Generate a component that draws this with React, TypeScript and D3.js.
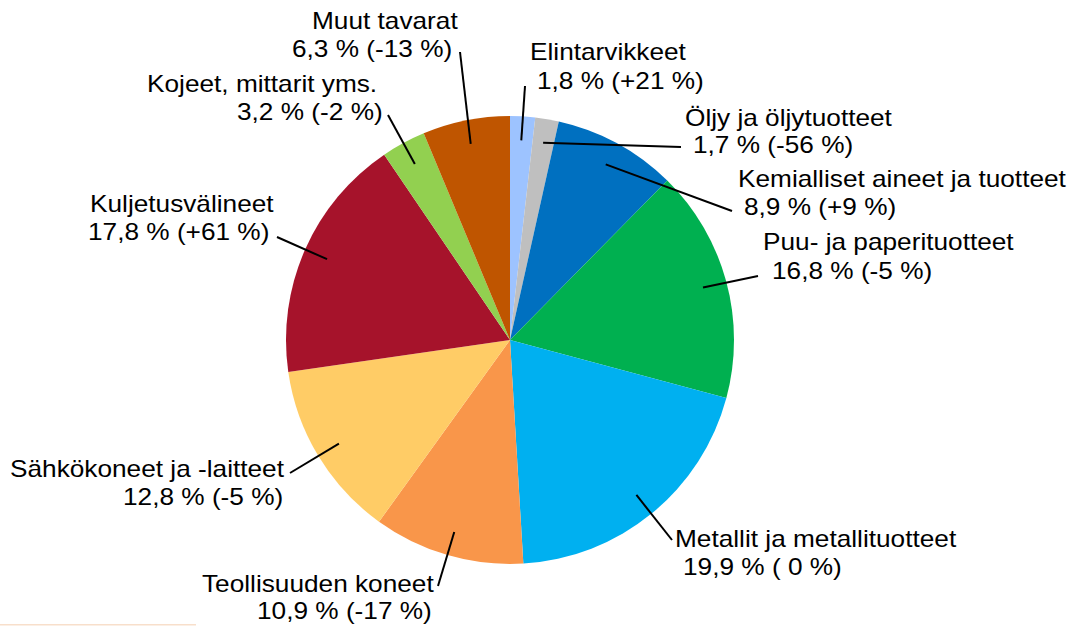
import React from "react"
import * as d3 from "d3"

// ── Data ───────────────────────────────────────────────────────────────────────

const categories = [
  "Elintarvikkeet",
  "Öljy ja öljytuotteet",
  "Kemialliset aineet ja tuotteet",
  "Puu- ja paperituotteet",
  "Metallit ja metallituotteet",
  "Teollisuuden koneet",
  "Sähkökoneet ja -laitteet",
  "Kuljetusvälineet",
  "Kojeet, mittarit yms.",
  "Muut tavarat",
]
const shares = [1.8, 1.7, 8.9, 16.8, 19.9, 10.9, 12.8, 17.8, 3.2, 6.3]
const changes = [21, -56, 9, -5, 0, -17, -5, 61, -2, -13]
const colors = [
  "#9DC3FF",
  "#BFBFBF",
  "#0070C0",
  "#00B050",
  "#00B0F0",
  "#F9964A",
  "#FFCC66",
  "#A6132B",
  "#92D050",
  "#BF5500",
]

// ── Layout ─────────────────────────────────────────────────────────────────────

const W = 1072
const H = 626
const cx = 510
const cy = 340
const R = 224
const leaderR = 200
const fontSize = 23
const stretch = 1.14

// label lines: left x / baseline y for both lines, plus leader end point
const labelLayout = [
  { l1: [530, 60], l2: [537, 89], end: [525, 86] },
  { l1: [685, 126], l2: [693, 153], end: [681, 147] },
  { l1: [738, 187], l2: [744, 215], end: [732, 211] },
  { l1: [763, 250], l2: [772, 279], end: [758, 276] },
  { l1: [675, 547], l2: [683, 575], end: [672, 540] },
  { l1: [202, 592], l2: [257, 619], end: [438, 586] },
  { l1: [10, 477], l2: [123, 505], end: [290, 473] },
  { l1: [90, 212], l2: [88, 240], end: [277, 237] },
  { l1: [147, 92], l2: [237, 120], end: [388, 115] },
  { l1: [312, 29], l2: [292, 57], end: [460, 52] },
]

const fmtShare = (v: number) => v.toFixed(1).replace(".", ",")
const fmtChange = (v: number) => (v > 0 ? `+${v}` : v < 0 ? `${v}` : ` ${v}`)

export default function App() {
  const pie = d3
    .pie<number>()
    .sort(null)
    .value(d => d)
  const arcs = pie(shares)
  const arc = d3.arc<d3.PieArcDatum<number>>().innerRadius(0).outerRadius(R)
  const leaderArc = d3
    .arc<d3.PieArcDatum<number>>()
    .innerRadius(leaderR)
    .outerRadius(leaderR)

  const textProps = {
    fontSize,
    fontFamily: "'Liberation Sans', Arial, sans-serif",
    fill: "#000",
  }

  return (
    <div style={{ position: "absolute", left: 0, top: 0 }}>
      <svg width={W} height={H} style={{ display: "block", background: "#fff" }}>
        {/* Slices */}
        <g transform={`translate(${cx},${cy})`}>
          {arcs.map((a, i) => (
            <path key={i} d={arc(a) || ""} fill={colors[i]} />
          ))}
        </g>

        {/* Leader lines */}
        {arcs.map((a, i) => {
          const [sx, sy] = leaderArc.centroid(a)
          const [ex, ey] = labelLayout[i].end
          return (
            <line
              key={`ld-${i}`}
              x1={cx + sx}
              y1={cy + sy}
              x2={ex}
              y2={ey}
              stroke="#000"
              strokeWidth={2}
            />
          )
        })}

        {/* Labels */}
        {categories.map((name, i) => {
          const lay = labelLayout[i]
          return (
            <g key={`lb-${i}`}>
              <text
                {...textProps}
                transform={`translate(${lay.l1[0]},${lay.l1[1]}) scale(${stretch},1)`}
              >
                {name}
              </text>
              <text
                {...textProps}
                transform={`translate(${lay.l2[0]},${lay.l2[1]}) scale(${stretch},1)`}
                style={{ whiteSpace: "pre" }}
              >
                {`${fmtShare(shares[i])} % (${fmtChange(changes[i])} %)`}
              </text>
            </g>
          )
        })}

        {/* faint rule at bottom left */}
        <rect x={0} y={624} width={196} height={1.5} fill="#F8DFCB" />
      </svg>
    </div>
  )
}
